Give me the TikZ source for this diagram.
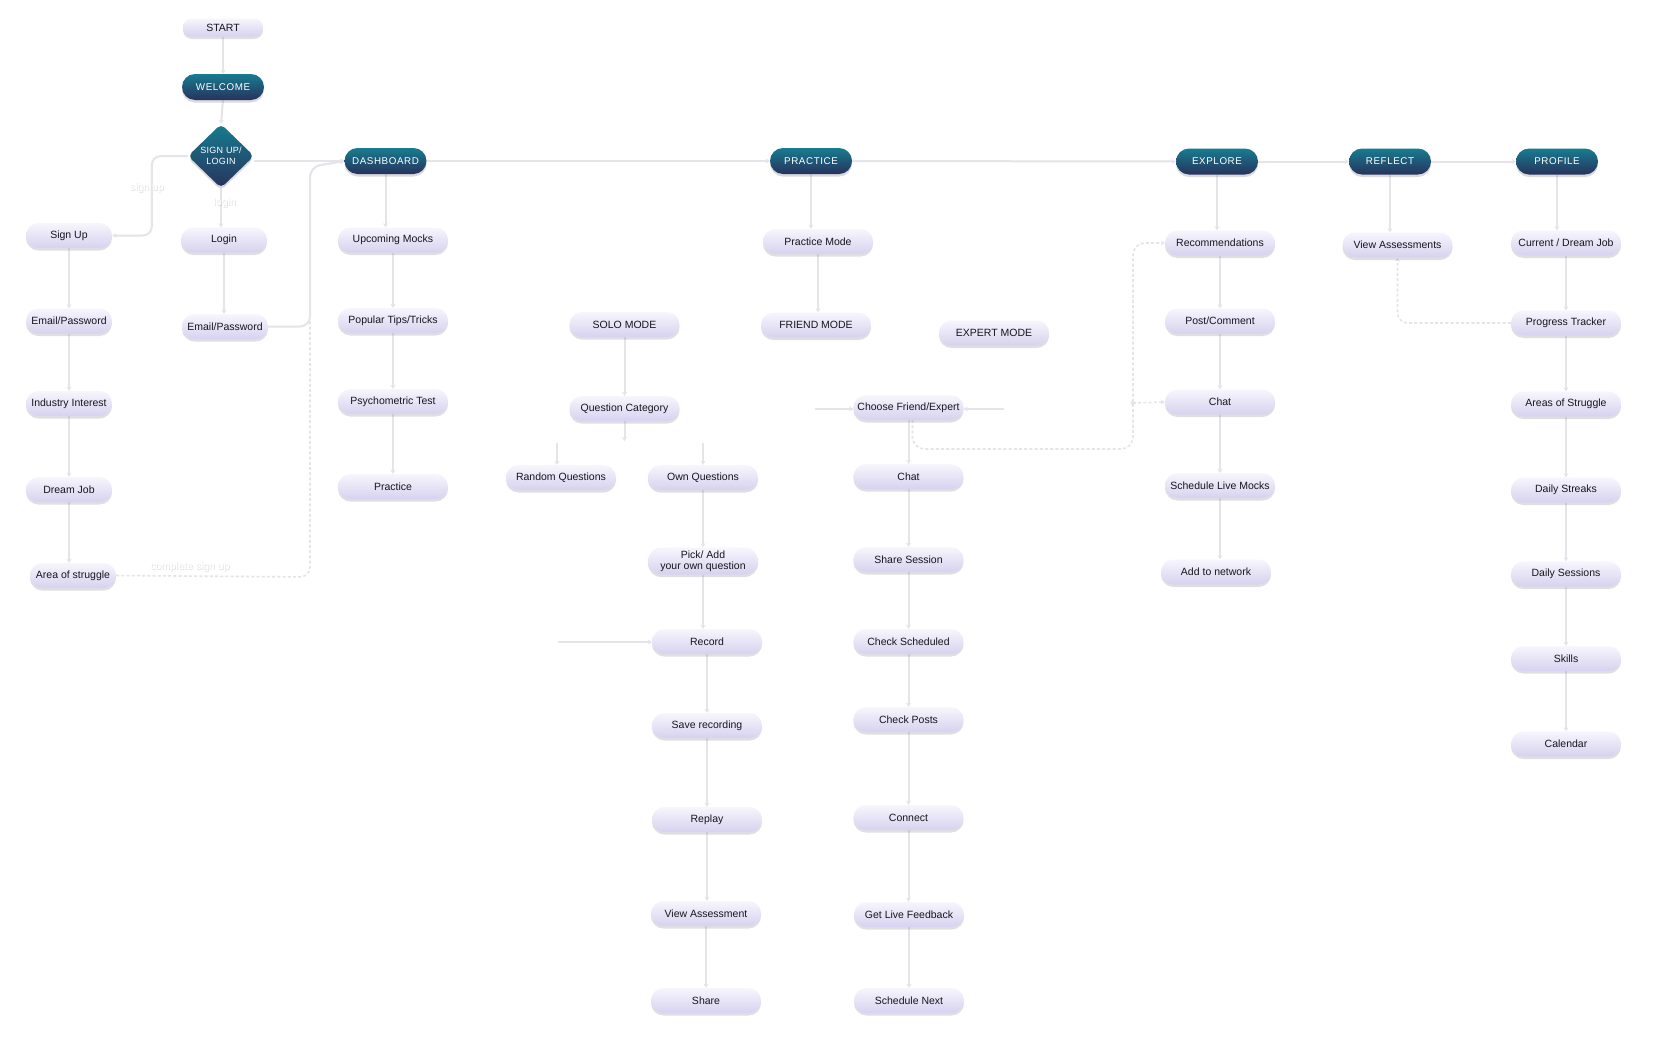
\documentclass[tikz,border=0pt]{standalone}
\usepackage{fontspec}
\setmainfont{Liberation Sans}
\newfontfamily\pillFam{Liberation Sans}
\newfontfamily\capsFam[LetterSpace=6]{Liberation Sans}
\newfontfamily\diamFam[LetterSpace=3]{Liberation Sans}
\usetikzlibrary{shapes.misc,shapes.geometric,shadows,arrows.meta,calc}
\definecolor{pilltop}{RGB}{247,246,253}
\definecolor{pillbot}{RGB}{214,210,239}
\definecolor{darktop}{RGB}{23,124,144}
\definecolor{darkbot}{RGB}{40,50,92}
\definecolor{txtdark}{RGB}{22,22,30}
\definecolor{linecol}{RGB}{228,228,233}
\definecolor{shadowcol}{RGB}{110,110,125}
\pgfdeclarelayer{back}
\pgfdeclarelayer{bg}
\pgfsetlayers{back,bg,main}
\begin{document}
\begin{tikzpicture}[x=1pt,y=-1pt,
  pill/.style={rounded rectangle, minimum width=110pt, minimum height=25pt, inner sep=0pt,
    top color=pilltop, bottom color=pillbot, draw=none, text=txtdark,
    font=\pillFam\fontsize{10.5pt}{12pt}\selectfont, align=center,
    drop shadow={shadow xshift=0pt, shadow yshift=-2.5pt, opacity=0.22, fill=shadowcol}},
  pillS/.style={pill, minimum width=86pt},
  mainnode/.style={rounded rectangle, minimum width=82pt, minimum height=26pt, inner sep=0pt,
    top color=darktop, bottom color=darkbot, draw=none, text=white,
    font=\capsFam\fontsize{9.8pt}{11pt}\selectfont,
    drop shadow={shadow xshift=0pt, shadow yshift=-2.5pt, opacity=0.25, fill=shadowcol}},
  conn/.style={draw=linecol, line width=2pt,
    -{Stealth[length=4pt,width=5pt]}},
  dconn/.style={draw=linecol, line width=1.6pt, dash pattern=on 3pt off 2.2pt,
    -{Stealth[length=4pt,width=5pt]}},
  lbl/.style={text=white, font=\pillFam\fontsize{10.5pt}{12pt}\selectfont, inner sep=0pt},
  lblsh/.style={text=shadowcol, opacity=0.22, font=\pillFam\fontsize{10.5pt}{12pt}\selectfont, inner sep=0pt}
]
\begin{pgfonlayer}{back}
\fill[white] (0,0) rectangle (1655,1053);
\end{pgfonlayer}
\useasboundingbox (0,0) rectangle (1655,1053);

% ---- main nodes
\node[pill, minimum width=80pt, minimum height=18pt] (start) at (223,27.5) {START};
\node[mainnode] (welc) at (223,87) {WELCOME};
\node[diamond, minimum width=66pt, minimum height=64pt, inner sep=0pt, rounded corners=5pt,
  top color=darktop, bottom color=darkbot, text=white, align=center,
  font=\diamFam\fontsize{9pt}{11.5pt}\selectfont,
  drop shadow={shadow xshift=0pt, shadow yshift=-2.5pt, opacity=0.25, fill=shadowcol}] (diam) at (221,156) {SIGN UP/\\LOGIN};
\node[mainnode] (dash) at (385.5,161) {DASHBOARD};
\node[mainnode] (prac) at (811,161) {PRACTICE};
\node[mainnode] (expl) at (1217,161.5) {EXPLORE};
\node[mainnode] (refl) at (1390,161.5) {REFLECT};
\node[mainnode] (prof) at (1557,161.5) {PROFILE};

% ---- sign up column
\node[pillS] (su) at (69,235.5) {Sign Up};
\node[pillS] (epl) at (69,321) {Email/Password};
\node[pillS] (ind) at (69,403.5) {Industry Interest};
\node[pillS] (dj) at (69,489.5) {Dream Job};
\node[pillS] (aos) at (73,575.5) {Area of struggle};
\node[pillS] (login) at (224,240) {Login};
\node[pillS] (epr) at (225,326.5) {Email/Password};

% ---- dashboard column
\node[pill] (um) at (393,240) {Upcoming Mocks};
\node[pill] (ptt) at (393,320.5) {Popular Tips/Tricks};
\node[pill] (psy) at (393,401.5) {Psychometric Test};
\node[pill] (dprac) at (393,486.5) {Practice};

% ---- solo
\node[pill] (solo) at (624.5,324.5) {SOLO MODE};
\node[pill] (qc) at (624.5,408.5) {Question Category};
\node[pill] (rq) at (561,477.5) {Random Questions};
\node[pill] (oq) at (703,477.5) {Own Questions};
\node[pill, minimum height=27pt] (pick) at (703,561) {Pick/ Add\\[-1pt]your own question};
\node[pill] (rec) at (707,641.5) {Record};
\node[pill] (save) at (707,725.5) {Save recording};
\node[pill] (rep) at (707,819.5) {Replay};
\node[pill] (vas) at (706,913.5) {View Assessment};
\node[pill] (shr) at (706,1000.5) {Share};

% ---- practice / friend / expert
\node[pill] (pm) at (818,241.5) {Practice Mode};
\node[pill] (fm) at (816,325) {FRIEND MODE};
\node[pill] (em) at (994,333) {EXPERT MODE};
\node[pill] (cfe) at (908.5,407.5) {Choose Friend/Expert};
\node[pill] (fchat) at (908.5,476.5) {Chat};
\node[pill] (ss) at (908.5,559.5) {Share Session};
\node[pill] (cs) at (908.5,641.5) {Check Scheduled};
\node[pill] (cp) at (908.5,719.5) {Check Posts};
\node[pill] (con) at (908.5,817.5) {Connect};
\node[pill] (glf) at (909,914.5) {Get Live Feedback};
\node[pill] (sn) at (909,1000.5) {Schedule Next};

% ---- explore
\node[pill] (recm) at (1220,243) {Recommendations};
\node[pill] (pc) at (1220,321) {Post/Comment};
\node[pill] (echat) at (1220,402) {Chat};
\node[pill] (slm) at (1220,485.5) {Schedule Live Mocks};
\node[pill] (atn) at (1216,572) {Add to network};

% ---- reflect
\node[pill] (vasm) at (1397.5,245) {View Assessments};

% ---- profile
\node[pill] (cdj) at (1566,243) {Current / Dream Job};
\node[pill] (prt) at (1566,323) {Progress Tracker};
\node[pill] (aost) at (1566,404) {Areas of Struggle};
\node[pill] (ds) at (1566,490) {Daily Streaks};
\node[pill] (dss) at (1566,574) {Daily Sessions};
\node[pill] (sk) at (1566,658.5) {Skills};
\node[pill] (cal) at (1566,744) {Calendar};

% ---- free ends
\coordinate (qcEnd) at (624.5,441);
\coordinate (rqStart) at (557,443);
\coordinate (oqStart) at (703,443);
\coordinate (recIn) at (558,642);
\coordinate (cfeL) at (815,409);
\coordinate (cfeR) at (1004,409);
\coordinate (jn) at (1133,403);

\begin{pgfonlayer}{bg}
\draw[conn] (start.south) -- (welc.north);
\draw[conn] (welc.south) -- (diam.north);
\draw[conn, rounded corners=9pt] (diam.west) -- ++(-36,0) |- (su.east);
\draw[conn] (diam.south) -- (diam.south |- login.north);
\draw[conn] (diam.east |- dash.west) -- (dash.west);
\foreach \a/\b in {su/epl, epl/ind, ind/dj, dj/aos, login/epr, dash/um, um/ptt, ptt/psy, psy/dprac,
  prac/pm, pm/fm, solo/qc, oq/pick, pick/rec, rec/save, save/rep, rep/vas, vas/shr,
  cfe/fchat, fchat/ss, ss/cs, cs/cp, cp/con, con/glf, glf/sn,
  expl/recm, recm/pc, pc/echat, echat/slm, slm/atn, refl/vasm,
  prof/cdj, cdj/prt, prt/aost, aost/ds, ds/dss, dss/sk, sk/cal}
  \draw[conn] (\a.south) -- (\a.south |- \b.north);
\foreach \a/\b in {dash/prac, prac/expl, expl/refl, refl/prof}
  \draw[conn] (\a.east) -- (\b.west);
\draw[conn] (qc.south) -- (qcEnd);
\draw[conn] (rqStart) -- (rqStart |- rq.north);
\draw[conn] (oqStart) -- (oq.north);
\draw[conn] (recIn) -- (recIn -| rec.west);
\draw[conn] (cfeL) -- (cfeL -| cfe.west);
\draw[conn] (cfeR) -- (cfeR -| cfe.east);
\draw[dconn, rounded corners=10pt] (aos.east) -- (310,577) -- (310,167) -- (dash.west);
\draw[conn, rounded corners=10pt] (epr.east) -- (310,326.5) -- (310,167) -- (dash.west);
\draw[dconn, rounded corners=12pt] ($(cfe.south)+(4,0)$) -- (912.5,449) -- (1133,449) -- (1133,243) -- (recm.west);
\draw[dconn] (jn) -- (echat.west);
\fill[linecol] (jn) circle (2.2pt);
\draw[dconn, rounded corners=10pt] (prt.west) -| (vasm.south);
\end{pgfonlayer}

% ---- labels
\node[lblsh] (lsuS) at (147.7,188.7) {sign up};
\node[lbl] (lsu) at (147,188) {sign up};
\node[lblsh] (llogS) at (225.7,203.7) {login};
\node[lbl] (llog) at (225,203) {login};
\node[lblsh] (lcsuS) at (190.7,567.7) {complete sign up};
\node[lbl] (lcsu) at (190,567) {complete sign up};
\end{tikzpicture}
\end{document}
